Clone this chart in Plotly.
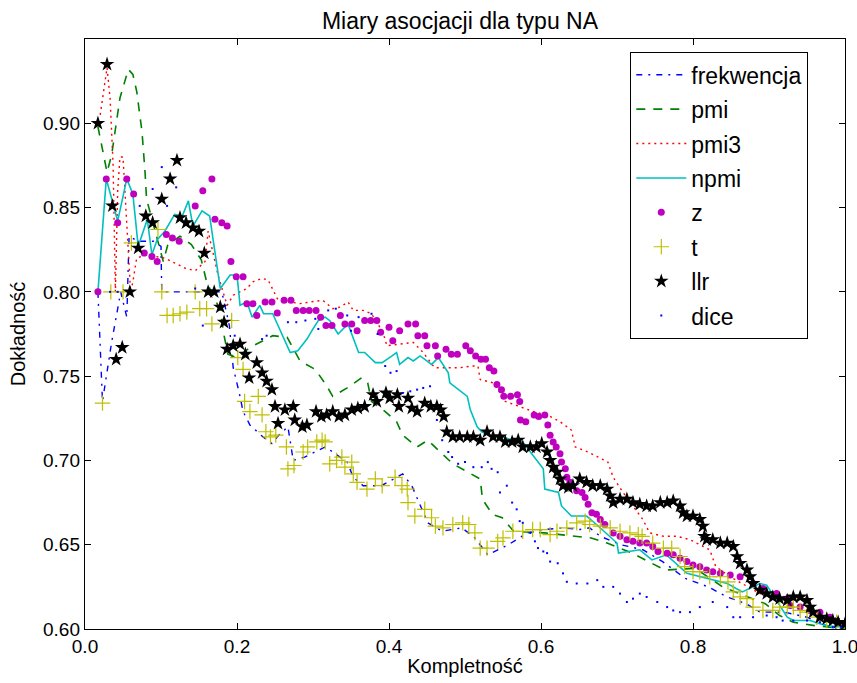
import plotly.graph_objects as go

# ---------------- data ----------------
freq_x = [0.017, 0.023, 0.035, 0.047, 0.055, 0.058, 0.07, 0.09, 0.1, 0.101, 0.13, 0.16, 0.18, 0.19,
          0.195, 0.203, 0.208, 0.217, 0.234, 0.246, 0.255, 0.267, 0.274, 0.289, 0.303, 0.316, 0.326,
          0.345, 0.353, 0.366, 0.39, 0.405, 0.418, 0.43, 0.451, 0.47, 0.496, 0.513, 0.53, 0.557, 0.582,
          0.605, 0.628, 0.651, 0.664, 0.678, 0.705, 0.734, 0.76, 0.79, 0.82, 0.845, 0.87, 0.888, 0.92,
          0.95, 0.98, 1.0]
freq_y = [0.80, 0.735, 0.77, 0.80, 0.785, 0.833, 0.83, 0.83, 0.827, 0.80, 0.80, 0.80, 0.80, 0.78,
          0.755, 0.74, 0.729, 0.721, 0.714, 0.71, 0.715, 0.72, 0.70, 0.702, 0.705, 0.708, 0.705,
          0.699, 0.69, 0.685, 0.685, 0.689, 0.692, 0.685, 0.663, 0.658, 0.66, 0.654, 0.644, 0.65, 0.657,
          0.659, 0.66, 0.659, 0.66, 0.655, 0.65, 0.647, 0.64, 0.63, 0.625, 0.619, 0.615, 0.61, 0.61,
          0.607, 0.601, 0.60]

pmi_x = [0.017, 0.029, 0.035, 0.046, 0.057, 0.063, 0.068, 0.075, 0.079, 0.081, 0.09, 0.103, 0.109,
         0.125, 0.14, 0.153, 0.16, 0.178, 0.183, 0.188, 0.2, 0.217, 0.247, 0.266, 0.283, 0.303, 0.317,
         0.326, 0.345, 0.364, 0.372, 0.377, 0.395, 0.41, 0.418, 0.437, 0.451, 0.467, 0.484, 0.504, 0.52,
         0.523, 0.536, 0.549, 0.564, 0.605, 0.628, 0.646, 0.666, 0.687, 0.72, 0.763, 0.803, 0.839, 0.895,
         0.914, 0.932, 0.96, 1.0]
pmi_y = [0.898, 0.871, 0.881, 0.915, 0.932, 0.929, 0.919, 0.895, 0.871, 0.855, 0.84, 0.818, 0.828,
         0.833, 0.828, 0.819, 0.806, 0.789, 0.774, 0.763, 0.761, 0.767, 0.774, 0.773, 0.759, 0.754, 0.745,
         0.738, 0.743, 0.749, 0.746, 0.735, 0.729, 0.723, 0.715, 0.708, 0.712, 0.705, 0.698, 0.693, 0.689,
         0.677, 0.668, 0.666, 0.658, 0.657, 0.656, 0.655, 0.654, 0.651, 0.645, 0.635, 0.636, 0.625, 0.615,
         0.608, 0.604, 0.602, 0.60]

pmi3_x = [0.02, 0.029, 0.033, 0.037, 0.04, 0.043, 0.046, 0.05, 0.055, 0.06, 0.063, 0.068, 0.08, 0.105,
          0.132, 0.145, 0.158, 0.162, 0.175, 0.187, 0.195, 0.213, 0.221, 0.233, 0.241, 0.253, 0.27, 0.283,
          0.296, 0.313, 0.326, 0.336, 0.346, 0.353, 0.366, 0.377, 0.388, 0.395, 0.397, 0.414, 0.432, 0.445,
          0.46, 0.476, 0.493, 0.509, 0.517, 0.52, 0.537, 0.55, 0.553, 0.59, 0.608, 0.625, 0.64, 0.645,
          0.662, 0.688, 0.695, 0.708, 0.734, 0.743, 0.761, 0.779, 0.796, 0.822, 0.83, 0.849, 0.888, 0.924,
          0.941, 0.954, 0.976, 1.0]
pmi3_y = [0.905, 0.933, 0.915, 0.875, 0.80, 0.86, 0.88, 0.88, 0.84, 0.80, 0.806, 0.82, 0.822, 0.82,
          0.814, 0.8125, 0.818, 0.836, 0.81, 0.792, 0.798, 0.802, 0.806, 0.808, 0.807, 0.796, 0.794, 0.793,
          0.794, 0.795, 0.79, 0.791, 0.794, 0.789, 0.789, 0.787, 0.779, 0.772, 0.768, 0.769, 0.77, 0.764,
          0.755, 0.755, 0.755, 0.756, 0.756, 0.748, 0.746, 0.738, 0.735, 0.729, 0.727, 0.723, 0.718, 0.708,
          0.705, 0.699, 0.69, 0.681, 0.665, 0.657, 0.655, 0.655, 0.653, 0.647, 0.637, 0.631, 0.621, 0.619,
          0.619, 0.611, 0.605, 0.602]

npmi_x = [0.017, 0.028, 0.043, 0.055, 0.063, 0.07, 0.082, 0.088, 0.095, 0.105, 0.118, 0.128, 0.136,
          0.142, 0.154, 0.164, 0.178, 0.191, 0.2, 0.204, 0.213, 0.22, 0.23, 0.235, 0.247, 0.26, 0.27,
          0.28, 0.292, 0.3, 0.307, 0.316, 0.322, 0.333, 0.346, 0.36, 0.368, 0.382, 0.391, 0.404, 0.41,
          0.414, 0.425, 0.432, 0.441, 0.456, 0.465, 0.478, 0.48, 0.503, 0.507, 0.516, 0.522, 0.536, 0.549,
          0.563, 0.576, 0.586, 0.594, 0.603, 0.605, 0.623, 0.627, 0.64, 0.651, 0.66, 0.673, 0.687, 0.70,
          0.702, 0.717, 0.73, 0.746, 0.765, 0.792, 0.809, 0.826, 0.845, 0.865, 0.888, 0.897, 0.91, 0.924,
          0.932, 0.954, 0.975, 1.0]
npmi_y = [0.80, 0.867, 0.842, 0.867, 0.858, 0.827, 0.843, 0.822, 0.831, 0.836, 0.846, 0.845, 0.854,
          0.839, 0.848, 0.845, 0.802, 0.81, 0.81, 0.792, 0.794, 0.785, 0.792, 0.787, 0.787, 0.774, 0.764,
          0.765, 0.772, 0.778, 0.783, 0.785, 0.783, 0.775, 0.781, 0.764, 0.764, 0.758, 0.758, 0.762, 0.764,
          0.757, 0.761, 0.759, 0.762, 0.757, 0.761, 0.752, 0.746, 0.738, 0.73, 0.72, 0.717, 0.714, 0.714,
          0.712, 0.711, 0.705, 0.70, 0.695, 0.683, 0.681, 0.673, 0.667, 0.667, 0.667, 0.662, 0.656, 0.651,
          0.645, 0.646, 0.647, 0.641, 0.644, 0.633, 0.631, 0.629, 0.627, 0.622, 0.627, 0.626, 0.617, 0.607,
          0.605, 0.605, 0.602, 0.601]

z_x = [0.017, 0.028, 0.043, 0.055, 0.064, 0.078, 0.088, 0.095, 0.107, 0.115, 0.124, 0.145, 0.155, 0.167,
       0.171, 0.18, 0.187, 0.192, 0.199, 0.208, 0.213, 0.221, 0.226, 0.237, 0.246, 0.253, 0.262, 0.271,
       0.278, 0.287, 0.295, 0.304, 0.31, 0.317, 0.325, 0.336, 0.342, 0.351, 0.358, 0.368, 0.376, 0.384,
       0.389, 0.40, 0.405, 0.414, 0.425, 0.435, 0.438, 0.447, 0.45, 0.461, 0.464, 0.475, 0.482, 0.49,
       0.501, 0.507, 0.514, 0.521, 0.527, 0.532, 0.538, 0.542, 0.548, 0.551, 0.56, 0.569, 0.572, 0.573,
       0.58, 0.591, 0.597, 0.605, 0.609, 0.612, 0.616, 0.62, 0.625, 0.627, 0.632, 0.634, 0.638, 0.647,
       0.654, 0.658, 0.662, 0.667, 0.673, 0.678, 0.684, 0.695, 0.704, 0.713, 0.721, 0.73, 0.739, 0.747,
       0.754, 0.766, 0.774, 0.783, 0.792, 0.80, 0.809, 0.818, 0.826, 0.836, 0.849, 0.862, 0.879, 0.892,
       0.91, 0.924, 0.928, 0.941, 0.954, 0.967, 0.98, 0.989, 1.0]
z_y = [0.80, 0.867, 0.841, 0.867, 0.858, 0.823, 0.821, 0.818, 0.834, 0.832, 0.83, 0.851, 0.86, 0.867,
       0.843, 0.841, 0.839, 0.818, 0.809, 0.809, 0.793, 0.793, 0.786, 0.794, 0.794, 0.7875, 0.795, 0.795,
       0.789, 0.789, 0.789, 0.789, 0.785, 0.78, 0.78, 0.786, 0.781, 0.781, 0.777, 0.783, 0.783, 0.783,
       0.776, 0.779, 0.771, 0.777, 0.781, 0.781, 0.774, 0.774, 0.768, 0.768, 0.762, 0.766, 0.763, 0.763,
       0.768, 0.765, 0.762, 0.76, 0.76, 0.755, 0.753, 0.745, 0.742, 0.738, 0.738, 0.739, 0.735, 0.724,
       0.723, 0.727, 0.726, 0.727, 0.721, 0.715, 0.711, 0.708, 0.704, 0.699, 0.695, 0.69, 0.687, 0.682,
       0.681, 0.678, 0.674, 0.669, 0.668, 0.665, 0.662, 0.657, 0.655, 0.653, 0.652, 0.651, 0.651, 0.649,
       0.646, 0.645, 0.644, 0.642, 0.64, 0.638, 0.637, 0.635, 0.634, 0.633, 0.632, 0.631, 0.627, 0.624,
       0.621, 0.618, 0.614, 0.613, 0.611, 0.61, 0.607, 0.605, 0.603]

t_x = [0.023, 0.034, 0.05, 0.061, 0.096, 0.101, 0.108, 0.116, 0.125, 0.134, 0.145, 0.151, 0.16, 0.167,
       0.193, 0.201, 0.208, 0.21, 0.217, 0.228, 0.233, 0.238, 0.244, 0.251, 0.265, 0.267, 0.275, 0.287,
       0.293, 0.305, 0.312, 0.316, 0.322, 0.331, 0.338, 0.342, 0.351, 0.353, 0.358, 0.371, 0.382, 0.391,
       0.408, 0.417, 0.424, 0.425, 0.434, 0.447, 0.456, 0.461, 0.471, 0.484, 0.497, 0.505, 0.513, 0.52,
       0.529, 0.543, 0.55, 0.563, 0.576, 0.589, 0.599, 0.612, 0.621, 0.634, 0.647, 0.658, 0.664, 0.678,
       0.691, 0.704, 0.717, 0.728, 0.733, 0.747, 0.761, 0.772, 0.783, 0.789, 0.80, 0.809, 0.822, 0.836,
       0.846, 0.853, 0.862, 0.871, 0.879, 0.892, 0.905, 0.914, 0.924, 0.932, 0.941, 0.95, 0.963, 0.976,
       0.989, 1.0]
t_y = [0.734, 0.80, 0.80, 0.829, 0.837, 0.80, 0.786, 0.786, 0.787, 0.788, 0.80, 0.79, 0.79, 0.781,
       0.783, 0.761, 0.754, 0.735, 0.729, 0.738, 0.727, 0.717, 0.714, 0.715, 0.708, 0.695, 0.697, 0.705,
       0.708, 0.711, 0.712, 0.711, 0.698, 0.70, 0.702, 0.696, 0.699, 0.692, 0.687, 0.683, 0.689, 0.685,
       0.69, 0.685, 0.683, 0.675, 0.667, 0.671, 0.666, 0.661, 0.66, 0.662, 0.663, 0.662, 0.657, 0.648,
       0.648, 0.652, 0.654, 0.658, 0.658, 0.659, 0.659, 0.656, 0.658, 0.66, 0.663, 0.664, 0.662, 0.661,
       0.66, 0.658, 0.657, 0.656, 0.655, 0.651, 0.648, 0.648, 0.643, 0.637, 0.634, 0.634, 0.631, 0.631,
       0.628, 0.622, 0.619, 0.618, 0.613, 0.611, 0.611, 0.613, 0.613, 0.613, 0.611, 0.61, 0.607, 0.605,
       0.604, 0.602]

llr_x = [0.017, 0.029, 0.036, 0.041, 0.049, 0.059, 0.07, 0.08, 0.089, 0.101, 0.112, 0.121, 0.125, 0.133,
         0.142, 0.15, 0.157, 0.162, 0.17, 0.178, 0.183, 0.187, 0.195, 0.204, 0.211, 0.216, 0.226, 0.233,
         0.239, 0.246, 0.25, 0.254, 0.263, 0.274, 0.276, 0.286, 0.292, 0.304, 0.311, 0.318, 0.326, 0.334,
         0.342, 0.351, 0.359, 0.368, 0.379, 0.384, 0.396, 0.401, 0.411, 0.413, 0.425, 0.43, 0.437, 0.447,
         0.455, 0.463, 0.468, 0.472, 0.476, 0.484, 0.493, 0.503, 0.511, 0.52, 0.529, 0.537, 0.546, 0.553,
         0.562, 0.57, 0.576, 0.586, 0.594, 0.601, 0.608, 0.612, 0.616, 0.621, 0.625, 0.629, 0.636, 0.642,
         0.651, 0.66, 0.668, 0.678, 0.687, 0.691, 0.695, 0.704, 0.713, 0.721, 0.73, 0.739, 0.747, 0.757,
         0.766, 0.774, 0.783, 0.787, 0.792, 0.80, 0.809, 0.813, 0.815, 0.818, 0.826, 0.836, 0.845, 0.853,
         0.858, 0.862, 0.871, 0.875, 0.879, 0.888, 0.897, 0.905, 0.914, 0.924, 0.932, 0.941, 0.95, 0.954,
         0.958, 0.967, 0.976, 0.984, 0.991, 1.0]
llr_y = [0.90, 0.935, 0.851, 0.76, 0.767, 0.80, 0.826, 0.845, 0.841, 0.855, 0.867, 0.878, 0.844, 0.841,
         0.838, 0.836, 0.823, 0.80, 0.80, 0.791, 0.782, 0.766, 0.768, 0.769, 0.763, 0.749, 0.758, 0.752,
         0.747, 0.742, 0.732, 0.722, 0.73, 0.732, 0.724, 0.72, 0.721, 0.729, 0.726, 0.727, 0.729, 0.726,
         0.727, 0.73, 0.731, 0.732, 0.739, 0.735, 0.74, 0.737, 0.739, 0.732, 0.737, 0.731, 0.729, 0.734,
         0.732, 0.732, 0.73, 0.726, 0.717, 0.714, 0.714, 0.714, 0.714, 0.712, 0.717, 0.714, 0.714, 0.711,
         0.711, 0.712, 0.708, 0.708, 0.708, 0.71, 0.705, 0.70, 0.696, 0.693, 0.689, 0.685, 0.684, 0.685,
         0.689, 0.687, 0.685, 0.685, 0.683, 0.679, 0.675, 0.677, 0.677, 0.675, 0.674, 0.673, 0.673, 0.675,
         0.675, 0.676, 0.673, 0.669, 0.667, 0.667, 0.665, 0.661, 0.655, 0.653, 0.653, 0.651, 0.651, 0.649,
         0.643, 0.639, 0.635, 0.631, 0.627, 0.623, 0.621, 0.619, 0.618, 0.617, 0.619, 0.619, 0.617, 0.613,
         0.61, 0.607, 0.606, 0.605, 0.604, 0.603]

dice_x = [0.033, 0.043, 0.072, 0.089, 0.101, 0.108, 0.12, 0.145, 0.155, 0.197, 0.233, 0.239, 0.267,
          0.278, 0.29, 0.303, 0.307, 0.32, 0.33, 0.345, 0.35, 0.36, 0.377, 0.385, 0.395, 0.402, 0.41,
          0.418, 0.428, 0.437, 0.445, 0.454, 0.463, 0.47, 0.478, 0.483, 0.491, 0.5, 0.511, 0.522, 0.53,
          0.535, 0.543, 0.546, 0.555, 0.562, 0.568, 0.572, 0.576, 0.586, 0.592, 0.596, 0.603, 0.608,
          0.612, 0.622, 0.629, 0.634, 0.647, 0.661, 0.674, 0.682, 0.695, 0.704, 0.713, 0.721, 0.73,
          0.739, 0.753, 0.766, 0.774, 0.783, 0.796, 0.809, 0.826, 0.845, 0.853, 0.862, 0.879, 0.897,
          0.91, 0.918, 0.932, 0.95, 0.967, 0.984, 0.995]
dice_y = [0.80, 0.80, 0.851, 0.861, 0.874, 0.851, 0.862, 0.802, 0.78, 0.774, 0.772, 0.774, 0.782,
          0.782, 0.783, 0.784, 0.778, 0.789, 0.79, 0.786, 0.777, 0.785, 0.787, 0.775, 0.756, 0.752, 0.753,
          0.74, 0.741, 0.742, 0.743, 0.744, 0.724, 0.712, 0.705, 0.702, 0.698, 0.699, 0.696, 0.696, 0.699,
          0.695, 0.693, 0.681, 0.685, 0.675, 0.671, 0.664, 0.663, 0.657, 0.652, 0.648, 0.646, 0.645,
          0.64, 0.639, 0.633, 0.628, 0.627, 0.627, 0.629, 0.625, 0.625, 0.621, 0.616, 0.618, 0.621,
          0.619, 0.616, 0.613, 0.611, 0.61, 0.61, 0.613, 0.616, 0.613, 0.607, 0.607, 0.607, 0.608,
          0.607, 0.605, 0.605, 0.605, 0.604, 0.601, 0.601]

x_ticks = [0.0, 0.2, 0.4, 0.6, 0.8, 1.0]
x_tick_labels = ["0.0", "0.2", "0.4", "0.6", "0.8", "1.0"]
y_ticks = [0.60, 0.65, 0.70, 0.75, 0.80, 0.85, 0.90]
y_tick_labels = ["0.60", "0.65", "0.70", "0.75", "0.80", "0.85", "0.90"]

FONT = "Liberation Sans, Arial, Helvetica, sans-serif"

W, H = 857, 683

fig = go.Figure()

fig.add_trace(go.Scatter(x=freq_x, y=freq_y, mode="lines", name="frekwencja", legendgroup="a",
                         line=dict(color="#0000ff", width=1.4, dash="6px,6px,2px,6px")))
fig.add_trace(go.Scatter(x=pmi_x, y=pmi_y, mode="lines", name="pmi", legendgroup="b",
                         line=dict(color="#008000", width=1.6, dash="9px,8px")))
fig.add_trace(go.Scatter(x=pmi3_x, y=pmi3_y, mode="lines", name="pmi3", legendgroup="c",
                         line=dict(color="#ff0000", width=1.4, dash="2px,4px")))
fig.add_trace(go.Scatter(x=npmi_x, y=npmi_y, mode="lines", name="npmi", legendgroup="d",
                         line=dict(color="#00bfbf", width=1.6)))
fig.add_trace(go.Scatter(x=z_x, y=z_y, mode="markers", name="z", legendgroup="e",
                         marker=dict(symbol="circle", size=7, color="#bf00bf", line=dict(width=0))))
fig.add_trace(go.Scatter(x=t_x, y=t_y, mode="markers", name="t", legendgroup="f",
                         marker=dict(symbol="cross-thin", size=11, color="#bfbf00",
                                     line=dict(width=1.2, color="#bfbf00"))))
fig.add_trace(go.Scatter(x=llr_x, y=llr_y, mode="markers", name="llr", legendgroup="g",
                         marker=dict(symbol="star", size=11, color="#000000", line=dict(width=0))))
fig.add_trace(go.Scatter(x=dice_x, y=dice_y, mode="markers", name="dice", legendgroup="h",
                         marker=dict(symbol="square", size=2, color="#0000ff", line=dict(width=0))))

axis_common = dict(showgrid=False, zeroline=False, showline=True, linecolor="#000000", linewidth=1.4,
                   mirror="ticks", ticks="inside", ticklen=6, tickwidth=1, tickcolor="#000000",
                   ticklabeloverflow="allow", automargin=False,
                   tickfont=dict(family=FONT, size=19, color="#000000"))

fig.update_layout(
    width=W, height=H,
    margin=dict(l=85, r=12, t=39, b=54, pad=0, autoexpand=False),
    paper_bgcolor="white", plot_bgcolor="white",
    font=dict(family=FONT, color="#000000"),
    title=dict(text="Miary asocjacji dla typu NA", font=dict(family=FONT, size=23, color="#000000"),
               x=460 / W, xref="container", xanchor="center",
               y=1 - 21 / H, yref="container", yanchor="middle"),
    xaxis=dict(range=[0, 1.000001], tickvals=x_ticks, ticktext=x_tick_labels,
               title=dict(text="Kompletność", font=dict(family=FONT, size=20, color="#000000"), standoff=2),
               **axis_common),
    yaxis=dict(range=[0.60, 0.95], tickvals=y_ticks, ticktext=y_tick_labels,
               title=dict(text="Dokładność", font=dict(family=FONT, size=20, color="#000000"), standoff=12),
               **axis_common),
    legend=dict(x=(630 - 85) / 760, y=(629 - 52) / 590, xanchor="left", yanchor="top",
                bgcolor="white", bordercolor="#000000", borderwidth=1.3,
                font=dict(family=FONT, size=23, color="#000000"),
                traceorder="grouped", tracegroupgap=1.5, itemwidth=50),
    showlegend=True,
)

# remove the browser's default 8px page margin so the figure sits at the window origin
fig.write_html("out.html",
               config={"displayModeBar": False},
               post_script="document.body.style.margin='0';document.body.style.overflow='hidden';")
